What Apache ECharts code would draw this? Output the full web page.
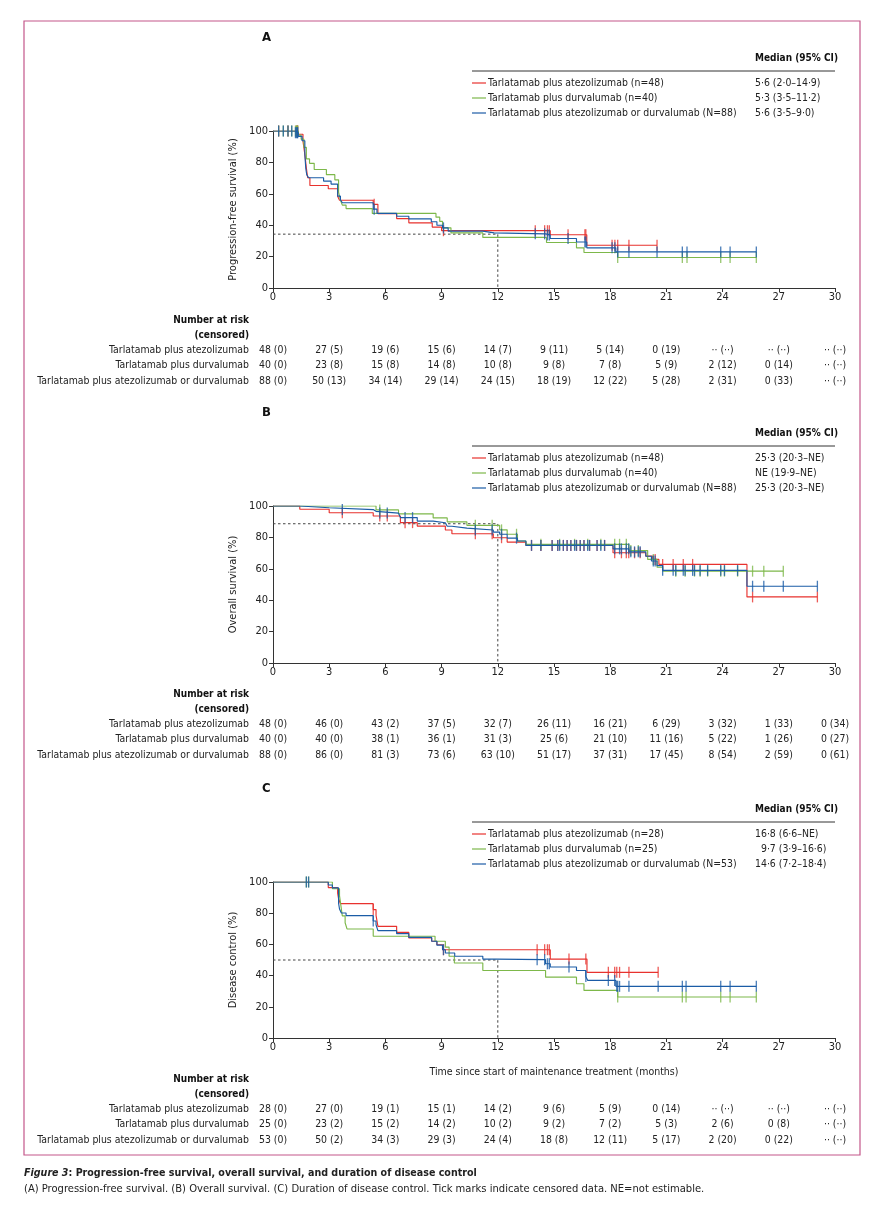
<!DOCTYPE html>
<html><head><meta charset="utf-8">
<script src="https://cdn.jsdelivr.net/npm/echarts@6/dist/echarts.min.js"></script>
<style>html,body{margin:0;padding:0;background:#fff}#c{width:883px;height:1210px}</style>
</head><body><div id="c"></div><script>
const FONT = '"Liberation Sans Narrow","DejaVu Sans Condensed",sans-serif';
const monthTicks = [0, 3, 6, 9, 12, 15, 18, 21, 24, 27, 30];
const armColors = ['#e8322e', '#7db84a', '#1b5ca6'];
const riskRowLabels = ['Tarlatamab plus atezolizumab', 'Tarlatamab plus durvalumab', 'Tarlatamab plus atezolizumab or durvalumab'];

// ---------- Panel A: progression-free survival ----------
const pfsAtezo = [[0,100],[1.35,97.9],[1.6,93.6],[1.7,85.1],[1.78,76.6],[1.85,70.2],[1.97,65.3],[2.95,63.2],[3.45,58.5],[3.55,55.9],[5.35,53.3],[5.6,47.3],[6.6,44.2],[7.25,41.5],[8.5,38.8],[9.0,36.5],[14.8,33.9],[16.75,27.2]];
const pfsAtezoEnd = 20.5;
const pfsAtezoCens = [0.3,0.8,1.25,1.3,1.32,5.4,9.1,14.0,14.5,14.65,14.75,15.75,16.65,16.7,18.1,18.25,18.4,19.0,20.5];
const pfsDurva = [[0,100],[1.35,97.4],[1.5,94.8],[1.65,89.6],[1.78,82.2],[1.95,79.4],[2.2,75.5],[2.85,72.2],[3.3,68.9],[3.5,61],[3.6,56],[3.7,52.8],[3.9,50.6],[5.3,47.5],[8.7,45.1],[8.9,42.4],[9.05,38.3],[9.5,35.1],[11.2,32.2],[14.6,29],[16.2,25.6],[16.6,22.6],[18.4,19.4]];
const pfsDurvaEnd = 25.8;
const pfsDurvaCens = [0.3,0.55,0.8,1.0,1.2,1.25,1.3,1.32,18.4,21.85,22.1,23.9,24.4,25.8];
const pfsComb = [[0,100],[1.2,98.9],[1.35,96.6],[1.55,93.8],[1.7,85],[1.75,76.2],[1.8,72.2],[1.9,70.2],[2.7,68.1],[3.1,66.2],[3.45,58.5],[3.6,56.2],[3.7,54.3],[5.35,50.2],[5.55,47.5],[6.6,45.7],[7.25,44],[8.45,42.2],[8.75,40],[9.05,38.3],[9.35,36.2],[11.2,35.1],[11.8,34.5],[14.55,33.8],[14.8,31.5],[16.2,29.3],[16.75,25.6],[18.3,23.0]];
const pfsCombEnd = 25.8;
const pfsCombCens = [0.3,0.55,0.8,1.0,1.2,1.25,1.3,1.32,5.4,9.1,14.0,14.5,14.65,14.75,15.75,16.65,16.7,18.1,18.25,18.4,19.0,20.5,21.85,22.1,23.9,24.4,25.8];
const pfsRiskAtezo = ['48 (0)','27 (5)','19 (6)','15 (6)','14 (7)','9 (11)','5 (14)','0 (19)','·· (··)','·· (··)','·· (··)'];
const pfsRiskDurva = ['40 (0)','23 (8)','15 (8)','14 (8)','10 (8)','9 (8)','7 (8)','5 (9)','2 (12)','0 (14)','·· (··)'];
const pfsRiskComb = ['88 (0)','50 (13)','34 (14)','29 (14)','24 (15)','18 (19)','12 (22)','5 (28)','2 (31)','0 (33)','·· (··)'];
const pfsLegend = ['Tarlatamab plus atezolizumab (n=48)','Tarlatamab plus durvalumab (n=40)','Tarlatamab plus atezolizumab or durvalumab (N=88)'];
const pfsMedians = ['5·6 (2·0–14·9)','5·3 (3·5–11·2)','5·6 (3·5–9·0)'];
const pfsLandmark = [12, 34.3];

// ---------- Panel B: overall survival ----------
const osAtezo = [[0,100],[1.43,97.9],[3.0,95.7],[5.35,93.6],[6.8,89.4],[7.7,87.2],[9.2,84.7],[9.55,82.3],[11.76,79.8],[12.5,77],[13.5,74.9],[18.15,70.2],[19.9,68.1],[20.25,66],[20.6,62.8],[25.3,42.1]];
const osAtezoEnd = 29.06;
const osAtezoCens = [3.7,5.7,6.1,7.05,7.45,10.8,11.7,12.2,13.8,14.3,14.9,15.2,15.5,15.7,15.9,16.2,16.4,16.6,16.9,17.3,17.7,18.24,18.6,18.86,18.99,19.3,19.6,20.4,20.8,21.36,21.9,22.4,25.6,29.06];
const osDurva = [[0,100],[5.5,97.5],[6.7,95],[8.55,92.4],[9.3,89.9],[10.35,87.7],[12.1,84.8],[12.5,82],[13.05,77.7],[13.5,75.6],[19.0,71.6],[20.0,66],[20.5,61],[20.8,58.5]];
const osDurvaEnd = 27.24;
const osDurvaCens = [5.7,10.8,11.7,12.2,13.0,14.3,15.3,16.1,16.8,17.5,18.24,18.5,18.86,19.1,19.5,20.3,21.5,22.0,22.5,22.8,23.2,23.9,24.1,24.8,25.6,26.2,27.24];
const osComb = [[0,100],[1.43,98.9],[3.0,97.7],[5.35,96.6],[5.5,95.5],[6.7,94.3],[6.8,92.6],[7.7,90.4],[8.55,89.3],[9.2,88.2],[9.3,87.1],[9.55,85.9],[10.35,84.7],[11.76,83.4],[12.1,82],[12.5,79.5],[13.05,77.7],[13.5,74.9],[18.15,72.7],[19.0,70.8],[19.9,68],[20.2,65],[20.5,62],[20.8,59],[25.3,48.9]];
const osCombEnd = 29.06;
const osCombCens = [3.7,5.7,6.1,7.05,7.45,10.8,11.7,12.2,13.0,13.8,14.3,14.9,15.2,15.3,15.5,15.7,15.9,16.1,16.2,16.4,16.6,16.8,16.9,17.3,17.5,17.7,18.24,18.5,18.6,18.86,18.99,19.1,19.3,19.5,19.6,20.3,20.4,20.8,21.36,21.5,21.9,22.0,22.4,22.5,22.8,23.2,23.9,24.1,24.8,25.6,26.2,27.24,29.06];
const osRiskAtezo = ['48 (0)','46 (0)','43 (2)','37 (5)','32 (7)','26 (11)','16 (21)','6 (29)','3 (32)','1 (33)','0 (34)'];
const osRiskDurva = ['40 (0)','40 (0)','38 (1)','36 (1)','31 (3)','25 (6)','21 (10)','11 (16)','5 (22)','1 (26)','0 (27)'];
const osRiskComb = ['88 (0)','86 (0)','81 (3)','73 (6)','63 (10)','51 (17)','37 (31)','17 (45)','8 (54)','2 (59)','0 (61)'];
const osLegend = ['Tarlatamab plus atezolizumab (n=48)','Tarlatamab plus durvalumab (n=40)','Tarlatamab plus atezolizumab or durvalumab (N=88)'];
const osMedians = ['25·3 (20·3–NE)','NE (19·9–NE)','25·3 (20·3–NE)'];
const osLandmark = [12, 88.7];

// ---------- Panel C: duration of disease control ----------
const dcAtezo = [[0,100],[2.95,96.4],[3.45,92.9],[3.5,89.3],[3.6,86.1],[5.35,82.3],[5.5,78.6],[5.6,71.6],[6.6,67.7],[7.25,64.1],[8.47,62],[8.75,59.8],[9.05,56.6],[14.8,50.6],[16.76,42.1]];
const dcAtezoEnd = 20.56;
const dcAtezoCens = [5.35,9.1,14.1,14.5,14.65,14.75,15.8,16.7,17.9,18.24,18.35,18.5,19.0,20.56];
const dcDurva = [[0,100],[3.17,95.7],[3.55,91.3],[3.6,87],[3.65,82.6],[3.7,78.3],[3.85,73.9],[3.95,69.9],[5.35,65.2],[8.65,62],[9.2,58.3],[9.4,52.4],[9.68,48.1],[11.2,43.3],[14.55,39],[16.2,34.8],[16.6,30.5],[18.4,26.3]];
const dcDurvaEnd = 25.8;
const dcDurvaCens = [1.78,1.9,18.4,21.85,22.05,23.9,24.4,25.8];
const dcComb = [[0,100],[2.95,98.1],[3.17,96.2],[3.5,86.5],[3.55,82.7],[3.65,80.1],[3.9,78.4],[5.35,75],[5.5,72.6],[5.6,68.8],[6.6,66.9],[7.25,64.5],[8.47,62],[8.75,59.5],[9.05,56.6],[9.2,54.5],[9.7,52.4],[11.2,50.6],[11.9,50.2],[14.55,47.6],[14.8,45.5],[16.2,43.3],[16.7,39.4],[16.8,36.9],[18.3,33.1]];
const dcCombEnd = 25.8;
const dcCombCens = [1.78,1.9,5.35,9.1,14.1,14.5,14.65,14.75,15.8,16.7,17.9,18.24,18.35,18.4,18.5,19.0,20.56,21.85,22.05,23.9,24.4,25.8];
const dcRiskAtezo = ['28 (0)','27 (0)','19 (1)','15 (1)','14 (2)','9 (6)','5 (9)','0 (14)','·· (··)','·· (··)','·· (··)'];
const dcRiskDurva = ['25 (0)','23 (2)','15 (2)','14 (2)','10 (2)','9 (2)','7 (2)','5 (3)','2 (6)','0 (8)','·· (··)'];
const dcRiskComb = ['53 (0)','50 (2)','34 (3)','29 (3)','24 (4)','18 (8)','12 (11)','5 (17)','2 (20)','0 (22)','·· (··)'];
const dcLegend = ['Tarlatamab plus atezolizumab (n=28)','Tarlatamab plus durvalumab (n=25)','Tarlatamab plus atezolizumab or durvalumab (N=53)'];
const dcMedians = ['16·8 (6·6–NE)','\u20079·7 (3·9–16·6)','14·6 (7·2–18·4)'];
const dcLandmark = [12, 50];

const panelLetters = ['A', 'B', 'C'];
const yAxisTitles = ['Progression-free survival (%)', 'Overall survival (%)', 'Disease control (%)'];
const xAxisTitle = 'Time since start of maintenance treatment (months)';

const panels = [
  {steps:[pfsAtezo,pfsDurva,pfsComb], ends:[pfsAtezoEnd,pfsDurvaEnd,pfsCombEnd], cens:[pfsAtezoCens,pfsDurvaCens,pfsCombCens], risk:[pfsRiskAtezo,pfsRiskDurva,pfsRiskComb], legend:pfsLegend, medians:pfsMedians, landmark:pfsLandmark},
  {steps:[osAtezo,osDurva,osComb], ends:[osAtezoEnd,osDurvaEnd,osCombEnd], cens:[osAtezoCens,osDurvaCens,osCombCens], risk:[osRiskAtezo,osRiskDurva,osRiskComb], legend:osLegend, medians:osMedians, landmark:osLandmark},
  {steps:[dcAtezo,dcDurva,dcComb], ends:[dcAtezoEnd,dcDurvaEnd,dcCombEnd], cens:[dcAtezoCens,dcDurvaCens,dcCombCens], risk:[dcRiskAtezo,dcRiskDurva,dcRiskComb], legend:dcLegend, medians:dcMedians, landmark:dcLandmark}
];

// layout (pixels)
const gridLeft = 273, gridWidth = 562;
const gridTops = [131, 506, 882];
const gridHeights = [157, 157, 156];
const tableOffsets = [32, 31, 41]; // from axis bottom to "Number at risk"
const TXT = '10.4px ' + FONT;
const BTXT = 'bold 10px ' + FONT;

function survAt(steps, t) {
  let s = steps[0][1];
  for (const p of steps) { if (p[0] <= t) s = p[1]; else break; }
  return s;
}

const grids = [], xAxes = [], yAxes = [], series = [];
panels.forEach((P, i) => {
  grids.push({left: gridLeft, width: gridWidth, top: gridTops[i], height: gridHeights[i], outerBoundsMode: 'none', containLabel: false});
  xAxes.push({
    gridIndex: i, type: 'value', min: 0, max: 30, interval: 3,
    name: i === 2 ? xAxisTitle : '', nameLocation: 'middle', nameGap: 29,
    nameTextStyle: {fontFamily: FONT, fontSize: 10.5, color: '#222'},
    axisLine: {lineStyle: {color: '#333', width: 1}},
    axisTick: {length: 4, lineStyle: {color: '#333'}},
    axisLabel: {fontFamily: FONT, fontSize: 11, color: '#222', margin: 4},
    splitLine: {show: false}
  });
  yAxes.push({
    gridIndex: i, type: 'value', min: 0, max: 100, interval: 20,
    name: yAxisTitles[i], nameLocation: 'middle', nameGap: 34, nameRotate: 90,
    nameTextStyle: {fontFamily: FONT, fontSize: 11, color: '#222'},
    axisLine: {show: true, lineStyle: {color: '#333', width: 1}},
    axisTick: {show: true, length: 4, lineStyle: {color: '#333'}},
    axisLabel: {fontFamily: FONT, fontSize: 11, color: '#222', margin: 5},
    splitLine: {show: false}
  });
  // dashed landmark
  const [lx, ly] = P.landmark;
  series.push({type: 'line', xAxisIndex: i, yAxisIndex: i, data: [[0, ly], [lx, ly], [lx, 0]],
    symbol: 'none', silent: true, z: 1, lineStyle: {color: '#444', width: 1, type: [2.5, 2.5]}});
  P.steps.forEach((st, a) => {
    const data = st.slice();
    data.push([P.ends[a], st[st.length - 1][1]]);
    series.push({type: 'line', xAxisIndex: i, yAxisIndex: i, step: 'end', data,
      symbol: 'none', z: 2 + a, lineStyle: {color: armColors[a], width: 1.15}});
    series.push({type: 'scatter', xAxisIndex: i, yAxisIndex: i,
      data: P.cens[a].map(t => [t, survAt(st, t)]),
      symbol: 'rect', symbolSize: [1.3, 11], z: 2 + a,
      itemStyle: {color: armColors[a]}});
  });
});

const chart = echarts.init(document.getElementById('c'), null, {renderer: 'canvas'});
chart.setOption({
  animation: false, backgroundColor: '#fff',
  grid: grids, xAxis: xAxes, yAxis: yAxes, series
});

const g = [];
function txt(x, y, text, opt) {
  g.push({type: 'text', x, y, silent: true, z: 50, style: Object.assign({
    text, font: TXT, fill: '#222', align: 'left', verticalAlign: 'middle'
  }, opt || {})});
}
// border
g.push({type: 'rect', silent: true, z: 40, shape: {x: 24, y: 21, width: 836, height: 1134},
  style: {fill: 'none', stroke: '#c4578a', lineWidth: 1.2}});

panels.forEach((P, i) => {
  const top = gridTops[i];
  const bottom = top + gridHeights[i];
  txt(262, top - 93, panelLetters[i], {font: 'bold 13px ' + FONT, fill: '#111'});
  // legend block
  txt(755, top - 73, 'Median (95% CI)', {font: BTXT, fill: '#111'});
  g.push({type: 'line', silent: true, z: 50, shape: {x1: 472, y1: top - 60, x2: 835, y2: top - 60},
    style: {stroke: '#333', lineWidth: 1}});
  P.legend.forEach((lab, a) => {
    const y = top - 48 + a * 15;
    g.push({type: 'line', silent: true, z: 50, shape: {x1: 472, y1: y, x2: 486, y2: y},
      style: {stroke: armColors[a], lineWidth: 1.2}});
    txt(488, y, lab);
    txt(755, y, P.medians[a]);
  });
  // risk table
  const t0 = bottom + tableOffsets[i];
  txt(249, t0, 'Number at risk', {font: BTXT, align: 'right', fill: '#111'});
  txt(249, t0 + 15, '(censored)', {font: BTXT, align: 'right', fill: '#111'});
  P.risk.forEach((row, a) => {
    const y = t0 + 30 + a * 15.5;
    txt(249, y, riskRowLabels[a], {align: 'right'});
    row.forEach((v, k) => {
      const px = chart.convertToPixel({xAxisIndex: i}, monthTicks[k]);
      txt(px, y, v, {align: 'center'});
    });
  });
});

// caption
g.push({type: 'text', x: 24, y: 1173, silent: true, z: 50, style: {
  text: '{i|Figure 3}{b|: Progression-free survival, overall survival, and duration of disease control}',
  verticalAlign: 'middle',
  rich: {i: {font: 'italic bold 10.6px ' + FONT, fill: '#222'}, b: {font: 'bold 10.6px ' + FONT, fill: '#222'}}
}});
txt(24, 1189, '(A) Progression-free survival. (B) Overall survival. (C) Duration of disease control. Tick marks indicate censored data. NE=not estimable.', {font: '11.1px ' + FONT});

chart.setOption({graphic: g});
</script></body></html>
